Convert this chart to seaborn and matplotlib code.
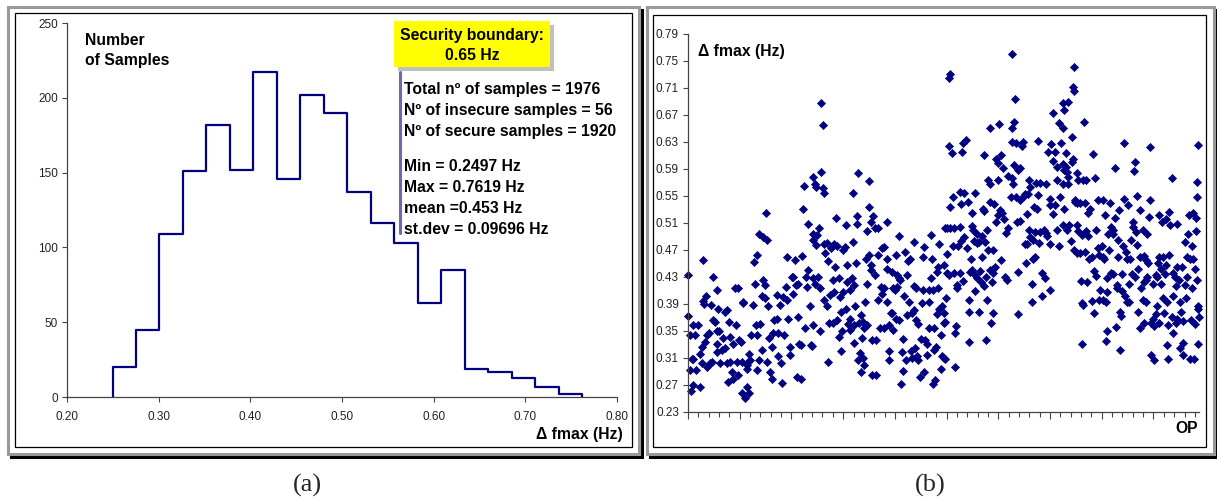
import numpy as np
import matplotlib
matplotlib.use("Agg")
import matplotlib.pyplot as plt
import seaborn as sns
from matplotlib.patches import Rectangle
from matplotlib.ticker import MultipleLocator, FormatStrFormatter, NullFormatter

# (a) histogram of delta fmax: 20 bins from min to max
bin_edges = [0.2497, 0.2753, 0.3009, 0.3265, 0.3521, 0.3777, 0.4033, 0.4290,
             0.4546, 0.4802, 0.5058, 0.5314, 0.5570, 0.5826, 0.6082, 0.6338,
             0.6594, 0.6850, 0.7107, 0.7363, 0.7619]
bin_counts = [20, 45, 109, 151, 182, 152, 217, 146, 202, 190,
              137, 116, 103, 63, 85, 19, 17, 13, 7, 2]

boundary_lines = ['Security boundary:', '0.65 Hz']
stats_lines = ['Total nº of samples = 1976', 'Nº of insecure samples = 56',
               'Nº of secure samples = 1920']
summary_lines = ['Min = 0.2497 Hz', 'Max = 0.7619 Hz', 'mean =0.453 Hz',
                 'st.dev = 0.09696 Hz']

# (b) delta fmax per operating point in four strips
op_seg1 = [1, 0, 8, 27, 21, 40, 14, 21, 8, 10,
           18, 31, 46, 53, 46, 53, 59, 57, 62, 70,
           72, 66, 72, 82, 85, 91, 98, 88, 98, 104,
           111, 113, 117, 121, 113, 111, 124, 130, 134, 143,
           149, 143, 149, 153, 160, 162, 162, 169, 173, 175,
           182, 195, 186, 188, 195, 198, 204, 211, 214, 207,
           207, 220, 227, 237, 227, 233, 240, 227, 237, 242,
           250, 255, 259, 265, 263, 268, 265, 276, 278, 285,
           285, 276, 291, 307, 291, 298, 302, 298, 307, 311,
           314, 317, 323, 323, 330, 332, 343, 345, 349, 349,
           356, 362, 358, 369, 371, 379, 382, 384, 388, 394,
           394, 401, 405, 407, 414, 418, 420, 427, 427, 430,
           436, 436, 440, 443, 450, 452, 456, 459, 465, 465,
           472, 474, 478, 482, 485, 485, 482, 485]
df_seg1 = [.432, .372, .344, .344, .358, .358, .308, .308, .292, .260,
           .270, .292, .267, .302, .316, .326, .455, .394, .390, .402,
           .344, .334, .297, .346, .302, .304, .429, .388, .366, .363,
           .349, .410, .383, .349, .319, .331, .302, .321, .339, .378,
           .381, .324, .302, .274, .363, .341, .304, .289, .279, .331,
           .413, .413, .358, .304, .284, .336, .334, .393, .391, .304,
           .257, .250, .267, .257, .299, .304, .307, .294, .316, .344,
           .388, .452, .420, .462, .358, .344, .292, .307, .360, .321,
           .401, .494, .489, .484, .425, .418, .525, .398, .304, .386,
           .339, .289, .279, .326, .346, .366, .403, .368, .312, .346,
           .388, .273, .302, .400, .344, .415, .460, .395, .367, .326,
           .314, .429, .404, .430, .455, .418, .282, .420, .371, .331,
           .329, .279, .461, .531, .564, .354, .429, .415, .508, .440,
           .386, .329, .327, .578, .494, .484, .358, .428]

op_seg2 = [515, 521, 513, 491, 495, 521, 526, 637, 656, 698,
           701, 652, 655, 717, 707, 694, 723, 734, 771, 573,
           611, 507, 500, 495, 524, 536, 552, 565, 578, 601,
           607, 637, 530, 543, 569, 616, 650, 689, 698, 708,
           708, 723, 736, 749, 756, 768, 771, 788, 805, 817,
           839, 852, 859, 874, 910, 914, 939, 942, 972, 968,
           962, 988, 994, 807, 814, 820, 848, 491, 504, 511,
           526, 539, 549, 560, 565, 582, 588, 601, 614, 627,
           633, 642, 611, 592, 646, 685, 691, 736, 745, 758,
           749, 768, 788, 792, 801, 810, 837, 856, 872, 882,
           910, 904, 930, 933, 949, 968, 939, 981, 988, 964,
           972, 511, 547, 560, 578, 594, 585, 620, 627, 640,
           627, 643, 663, 668, 672, 678, 691, 682, 710, 727,
           743, 756, 779, 784, 794, 805, 817, 833, 846, 865,
           874, 882, 891, 900, 917, 926, 930, 952, 977, 988,
           591, 665, 659, 676, 681, 668, 543, 710, 726, 779,
           776, 826, 843, 861, 865, 878, 887, 891, 923, 952,
           959, 981, 988, 977, 914, 897, 830, 823, 949, 955]
df_seg2 = [.687, .655, .586, .568, .563, .561, .554, .554, .584, .572,
           .534, .520, .508, .520, .511, .498, .503, .502, .512, .517,
           .507, .503, .492, .477, .478, .480, .472, .479, .475, .470,
           .474, .482, .465, .454, .445, .447, .450, .457, .462, .447,
           .440, .433, .462, .472, .474, .457, .442, .437, .462, .490,
           .467, .454, .457, .482, .460, .474, .492, .456, .478, .445,
           .437, .447, .503, .433, .428, .425, .433, .420, .429, .413,
           .396, .387, .403, .425, .408, .428, .400, .408, .423, .411,
           .428, .418, .383, .378, .387, .393, .420, .395, .415, .414,
           .405, .393, .376, .413, .410, .415, .401, .392, .416, .413,
           .410, .391, .393, .410, .410, .413, .428, .386, .377, .375,
           .383, .350, .362, .361, .366, .349, .341, .360, .367, .358,
           .351, .332, .361, .373, .339, .363, .358, .354, .337, .337,
           .354, .354, .359, .377, .351, .368, .366, .338, .373, .376,
           .381, .366, .360, .338, .337, .330, .354, .354, .344, .361,
           .320, .317, .307, .309, .299, .289, .304, .284, .284, .320,
           .306, .319, .307, .320, .309, .324, .312, .307, .314, .321,
           .326, .312, .309, .293, .289, .281, .290, .271, .271, .277]

op_seg3 = [1252, 1014, 1011, 1265, 1259, 1252, 1168, 1201, 1493, 1488,
           1491, 1471, 1452, 1455, 1411, 1436, 1449, 1484, 1011, 1020,
           1059, 1065, 1076, 1145, 1252, 1269, 1291, 1297, 1355, 1403,
           1394, 1420, 1462, 1443, 1488, 1197, 1210, 1192, 1220, 1259,
           1278, 1284, 1239, 1252, 1413, 1426, 1449, 1455, 1462, 1467,
           1471, 1484, 1162, 1166, 1197, 1256, 1320, 1323, 1346, 1362,
           1385, 1426, 1449, 1471, 1052, 1068, 1110, 1024, 1057, 1081,
           1014, 1140, 1143, 1166, 1184, 1248, 1269, 1284, 1295, 1304,
           1313, 1355, 1400, 1398, 1420, 1439, 1455, 1497, 1097, 1207,
           1213, 1197, 1192, 1222, 1274, 1282, 1310, 1339, 1349, 1411,
           1001, 1014, 1029, 1050, 1097, 1104, 1117, 1136, 1155, 1230,
           1239, 1317, 1323, 1333, 1342, 1362, 1375, 1385, 1388, 1426,
           1452, 1465, 1474, 1024, 1046, 1055, 1068, 1078, 1106, 1117,
           1127, 1149, 1162, 1181, 1304, 1310, 1357, 1400, 1436, 1480,
           1491, 1003, 1001, 1011, 1027, 1050, 1091, 1097, 1094, 1110,
           1130, 1136, 1117, 1132, 1153, 1168, 1181, 1188, 1179, 1210,
           1226, 1233, 1278, 1308, 1333, 1342, 1368, 1381, 1329, 1398,
           998, 1039, 1039, 1065, 1110, 1145, 1175, 1085, 1155, 1368,
           1329, 1085, 1127, 1179, 1278, 994, 1037, 1033, 1171, 1085,
           1153, 994, 1033]
df_seg3 = [.761, .730, .725, .693, .660, .650, .650, .657, .741, .712,
           .706, .689, .687, .678, .673, .658, .651, .638, .624, .613,
           .615, .628, .633, .610, .630, .628, .624, .630, .632, .627,
           .615, .615, .613, .629, .605, .598, .611, .604, .592, .596,
           .589, .591, .579, .576, .602, .593, .597, .589, .593, .586,
           .578, .600, .573, .568, .574, .567, .573, .563, .569, .569,
           .567, .574, .568, .568, .556, .554, .554, .548, .538, .541,
           .534, .531, .528, .541, .538, .549, .548, .544, .549, .553,
           .553, .551, .545, .536, .536, .548, .531, .541, .524, .529,
           .524, .521, .512, .515, .512, .513, .523, .534, .530, .523,
           .503, .502, .502, .504, .505, .499, .494, .490, .499, .495,
           .503, .499, .489, .484, .497, .497, .500, .495, .490, .499,
           .507, .499, .507, .476, .475, .483, .489, .472, .483, .480,
           .482, .482, .470, .470, .478, .478, .480, .478, .475, .483,
           .470, .464, .435, .433, .435, .436, .437, .440, .457, .433,
           .439, .459, .428, .423, .430, .440, .442, .445, .435, .455,
           .429, .425, .437, .451, .456, .460, .435, .428, .419, .411,
           .399, .418, .413, .424, .409, .416, .423, .395, .395, .401,
           .392, .378, .378, .376, .375, .363, .357, .347, .362, .334,
           .337, .308, .296]

op_seg4 = [1531, 1687, 1786, 1973, 1565, 1728, 1724, 1651, 1505, 1870,
           1509, 1529, 1539, 1574, 1967, 1969, 1735, 1786, 1686, 1496,
           1505, 1516, 1535, 1587, 1603, 1632, 1703, 1668, 1748, 1554,
           1548, 1612, 1651, 1784, 1822, 1861, 1848, 1831, 1864, 1892,
           1938, 1954, 1964, 1722, 1719, 1503, 1634, 1645, 1509, 1522,
           1539, 1548, 1578, 1625, 1642, 1664, 1712, 1732, 1758, 1776,
           1935, 1964, 1922, 1948, 1503, 1516, 1535, 1587, 1599, 1552,
           1561, 1590, 1606, 1608, 1629, 1683, 1694, 1699, 1709, 1664,
           1735, 1748, 1763, 1771, 1780, 1822, 1838, 1861, 1819, 1828,
           1848, 1928, 1941, 1951, 1909, 1892, 1960, 1570, 1578, 1518,
           1544, 1621, 1634, 1645, 1677, 1715, 1728, 1741, 1771, 1763,
           1776, 1810, 1815, 1797, 1828, 1844, 1877, 1883, 1887, 1900,
           1931, 1970, 1660, 1657, 1706, 1677, 1690, 1750, 1922, 1948,
           1593, 1590, 1603, 1616, 1621, 1561, 1522, 1526, 1696, 1706,
           1758, 1771, 1815, 1835, 1853, 1877, 1902, 1926, 1972, 1973,
           1570, 1670, 1673, 1741, 1810, 1797, 1789, 1802, 1822, 1841,
           1857, 1870, 1887, 1892, 1905, 1915, 1944, 1960, 1975, 1619,
           1655, 1748, 1763, 1874, 1522, 1616, 1670, 1851, 1913, 1902,
           1973, 1789, 1802, 1857, 1915, 1941, 1957]
df_seg4 = [.660, .628, .623, .625, .612, .600, .587, .592, .584, .577,
           .573, .573, .573, .576, .571, .548, .550, .544, .546, .544,
           .540, .540, .540, .544, .544, .540, .536, .529, .529, .531,
           .525, .521, .517, .519, .521, .526, .515, .512, .507, .509,
           .521, .524, .517, .512, .504, .507, .504, .500, .498, .492,
           .498, .490, .500, .493, .494, .485, .485, .497, .500, .494,
           .494, .498, .482, .476, .466, .466, .467, .472, .476, .456,
           .460, .462, .460, .456, .470, .475, .467, .456, .456, .459,
           .477, .459, .461, .455, .451, .459, .460, .462, .450, .442,
           .447, .460, .456, .456, .445, .444, .442, .439, .431, .424,
           .423, .428, .436, .434, .434, .434, .429, .442, .425, .423,
           .430, .433, .429, .419, .420, .434, .435, .430, .416, .425,
           .429, .426, .418, .413, .420, .409, .401, .413, .418, .413,
           .411, .396, .395, .393, .408, .394, .391, .388, .393, .393,
           .395, .392, .387, .398, .392, .401, .392, .398, .386, .383,
           .376, .378, .372, .378, .375, .367, .361, .357, .361, .376,
           .358, .371, .361, .368, .378, .365, .366, .360, .371, .350,
           .356, .354, .362, .346, .331, .335, .322, .329, .332, .324,
           .330, .314, .306, .308, .314, .308, .308]

n_samples = 1976
op_index = np.array(op_seg1 + op_seg2 + op_seg3 + op_seg4)
dfmax_hz = np.array(df_seg1 + df_seg2 + df_seg3 + df_seg4)

sns.set_style("ticks")
plt.rcParams['font.family'] = ['Liberation Sans', 'DejaVu Sans']

navy = '#000080'
W, H = 1217, 501
fig = plt.figure(figsize=(W / 100, H / 100), dpi=100)

# frames drawn in pixel coordinates
bg = fig.add_axes([0, 0, 1, 1], zorder=0)
bg.set_xlim(0, W)
bg.set_ylim(H, 0)
bg.axis('off')


def panel_frame(x0, y0, x1, y1, ix0, iy0, ix1, iy1):
    bg.add_patch(Rectangle((x0 + 3, y0 + 3), x1 - x0, y1 - y0,
                           facecolor='black', edgecolor='black', lw=2.2))
    bg.add_patch(Rectangle((x0, y0), x1 - x0, y1 - y0,
                           facecolor='white', edgecolor='#999999', lw=2.2))
    bg.add_patch(Rectangle((ix0, iy0), ix1 - ix0, iy1 - iy0,
                           facecolor='none', edgecolor='black', lw=0.9))


panel_frame(8, 6.5, 638.5, 453.5, 14.5, 13, 632, 446.5)
panel_frame(646.5, 6.5, 1213.5, 453.5, 653, 14.5, 1206, 446.5)

ax1 = fig.add_axes([67 / W, 1 - 397 / H, 550 / W, 374 / H], zorder=1)
ax2 = fig.add_axes([688 / W, 1 - 411.7 / H, 511 / W, 377.7 / H], zorder=1)
for ax in (ax1, ax2):
    ax.set_facecolor('none')
    sns.despine(ax=ax)
    for side in ('left', 'bottom'):
        ax.spines[side].set_color('#444444')
        ax.spines[side].set_linewidth(0.9)
    ax.tick_params(direction='out', width=0.8, color='#444444',
                   labelcolor='#222222', labelsize=8.5)

# (a) histogram
centers = (np.array(bin_edges[:-1]) + np.array(bin_edges[1:])) / 2
sns.histplot(x=centers, weights=bin_counts, bins=bin_edges, element='step',
             fill=False, color=navy, linewidth=1.6, ax=ax1)
ax1.vlines([bin_edges[0], bin_edges[-1]], 0, [bin_counts[0], bin_counts[-1]],
           color=navy, linewidth=1.6)
ax1.set_xlim(0.2, 0.8)
ax1.set_ylim(0, 250)
ax1.xaxis.set_major_locator(MultipleLocator(0.1))
ax1.xaxis.set_major_formatter(FormatStrFormatter('%.2f'))
ax1.yaxis.set_major_locator(MultipleLocator(50))
ax1.tick_params(axis='x', length=3.5, pad=6.5)
ax1.tick_params(axis='y', length=3.5, pad=3)
ax1.set_xlabel('')
ax1.set_ylabel('')

# (b) scatter
sns.scatterplot(x=op_index, y=dfmax_hz, marker='D', s=17, color=navy,
                edgecolor=navy, linewidth=0.5, ax=ax2, clip_on=False,
                legend=False)
ax2.set_xlim(0, n_samples)
ax2.set_ylim(0.23, 0.79)
ax2.set_yticks(np.round(np.arange(0.23, 0.80, 0.04), 2))
ax2.yaxis.set_major_formatter(FormatStrFormatter('%.2f'))
ax2.xaxis.set_major_locator(MultipleLocator(200))
ax2.xaxis.set_minor_locator(MultipleLocator(40))
ax2.xaxis.set_major_formatter(NullFormatter())
ax2.tick_params(axis='x', which='major', length=5)
ax2.tick_params(axis='x', which='minor', length=3.5, width=0.8, color='#444444')
ax2.tick_params(axis='y', length=3.5, pad=3)
ax2.set_xlabel('')
ax2.set_ylabel('')

# annotations
bold = dict(fontsize=11.3, fontweight='bold', color='black', va='baseline')
bg.text(85, 45, 'Number', **bold)
bg.text(85, 65, 'of Samples', **bold)

bg.add_patch(Rectangle((397.5, 24.5), 156, 46, facecolor='#c0c0c0', lw=0))
bg.add_patch(Rectangle((394, 21), 156, 46, facecolor='#ffff00', lw=0))
for line, y in zip(boundary_lines, [40, 60]):
    bg.text(472, y, line, ha='center', **bold)

bg.plot([400, 400], [72, 233], color='#6b6ba8', lw=2.2)
for line, y in zip(stats_lines, [94, 115, 136]):
    bg.text(404, y, line, **bold)
for line, y in zip(summary_lines, [171, 192, 213, 234]):
    bg.text(404, y, line, **bold)

bg.text(623, 439, 'Δ fmax (Hz)', ha='right', **bold)
bg.text(698, 56, 'Δ fmax (Hz)', ha='left', **bold)
bg.text(1198, 433, 'OP', ha='right', **bold)

serif = ['Liberation Serif', 'DejaVu Serif']
bg.text(307, 492, '(a)', family=serif, fontsize=19, ha='center', va='baseline')
bg.text(930, 492, '(b)', family=serif, fontsize=19, ha='center', va='baseline')

fig.savefig('out.png', dpi=100)
